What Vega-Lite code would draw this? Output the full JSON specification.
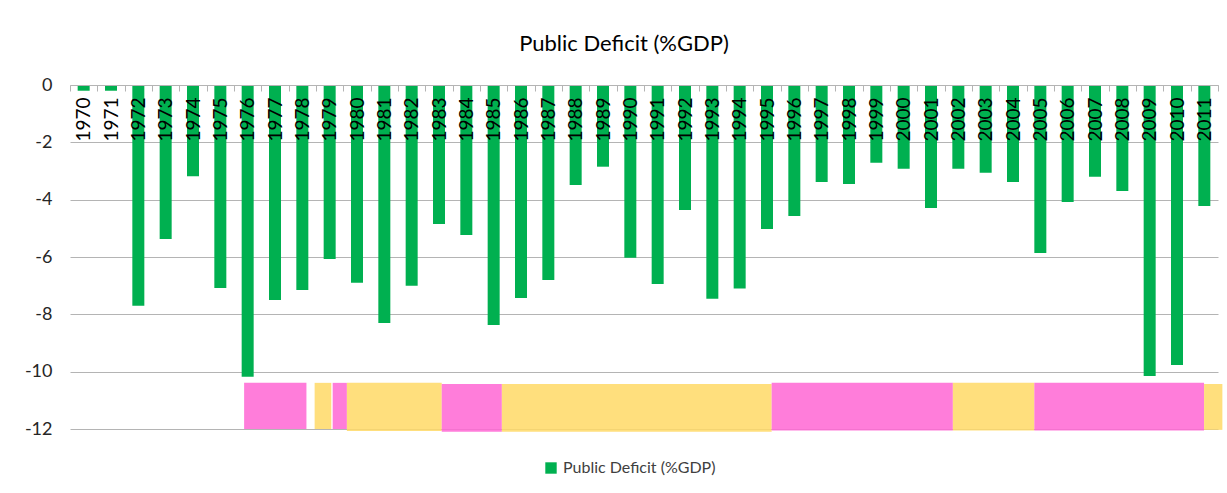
{
  "$schema": "https://vega.github.io/schema/vega-lite/v6.json",
  "width": 1148,
  "height": 344,
  "autosize": {"type": "none"},
  "padding": {"left": 70, "top": 85, "right": 9, "bottom": 64},
  "background": "white",
  "config": {
    "font": "Lato",
    "view": {"stroke": null},
    "axis": {"labelFont": "Lato", "titleFont": "Lato"}
  },
  "title": {
    "text": "Public Deficit (%GDP)",
    "fontSize": 22,
    "fontWeight": "normal",
    "color": "#000000",
    "font": "Lato",
    "offset": 20,
    "dx": -20
  },
  "datasets": {
    "deficit": [
      {"year": 1970, "deficit": -0.2},
      {"year": 1971, "deficit": -0.2},
      {"year": 1972, "deficit": -7.7},
      {"year": 1973, "deficit": -5.37},
      {"year": 1974, "deficit": -3.18},
      {"year": 1975, "deficit": -7.08},
      {"year": 1976, "deficit": -10.18},
      {"year": 1977, "deficit": -7.5},
      {"year": 1978, "deficit": -7.15},
      {"year": 1979, "deficit": -6.07},
      {"year": 1980, "deficit": -6.9},
      {"year": 1981, "deficit": -8.3},
      {"year": 1982, "deficit": -7.0},
      {"year": 1983, "deficit": -4.85},
      {"year": 1984, "deficit": -5.23},
      {"year": 1985, "deficit": -8.37},
      {"year": 1986, "deficit": -7.43},
      {"year": 1987, "deficit": -6.8},
      {"year": 1988, "deficit": -3.49},
      {"year": 1989, "deficit": -2.85},
      {"year": 1990, "deficit": -6.03},
      {"year": 1991, "deficit": -6.94},
      {"year": 1992, "deficit": -4.36},
      {"year": 1993, "deficit": -7.46},
      {"year": 1994, "deficit": -7.1},
      {"year": 1995, "deficit": -5.02},
      {"year": 1996, "deficit": -4.57},
      {"year": 1997, "deficit": -3.38},
      {"year": 1998, "deficit": -3.45},
      {"year": 1999, "deficit": -2.71},
      {"year": 2000, "deficit": -2.92},
      {"year": 2001, "deficit": -4.29},
      {"year": 2002, "deficit": -2.92},
      {"year": 2003, "deficit": -3.06},
      {"year": 2004, "deficit": -3.38},
      {"year": 2005, "deficit": -5.86},
      {"year": 2006, "deficit": -4.08},
      {"year": 2007, "deficit": -3.2},
      {"year": 2008, "deficit": -3.7},
      {"year": 2009, "deficit": -10.15},
      {"year": 2010, "deficit": -9.77},
      {"year": 2011, "deficit": -4.22}
    ],
    "periods": [
      {"start": 1975.87, "end": 1978.15, "top": -10.39, "bottom": -12.0, "party": "PS"},
      {"start": 1978.45, "end": 1979.06, "top": -10.39, "bottom": -12.0, "party": "PSD"},
      {"start": 1979.11, "end": 1979.63, "top": -10.39, "bottom": -12.0, "party": "PS"},
      {"start": 1979.63, "end": 1983.1, "top": -10.39, "bottom": -12.07, "party": "PSD"},
      {"start": 1983.1, "end": 1985.3, "top": -10.43, "bottom": -12.1, "party": "PS"},
      {"start": 1985.3, "end": 1995.17, "top": -10.43, "bottom": -12.1, "party": "PSD"},
      {"start": 1995.17, "end": 2001.8, "top": -10.39, "bottom": -12.05, "party": "PS"},
      {"start": 2001.8, "end": 2004.78, "top": -10.39, "bottom": -12.05, "party": "PSD"},
      {"start": 2004.78, "end": 2010.99, "top": -10.39, "bottom": -12.05, "party": "PS"},
      {"start": 2010.99, "end": 2011.66, "top": -10.43, "bottom": -12.03, "party": "PSD"}
    ]
  },
  "layer": [
    {
      "data": {"name": "periods"},
      "mark": {"type": "rect", "opacity": 0.85, "clip": false},
      "encoding": {
        "x": {
          "field": "start",
          "type": "quantitative",
          "scale": {"domain": [1969.5, 2011.5], "nice": false, "zero": false, "padding": 0},
          "axis": {
            "orient": "bottom",
            "offset": -344,
            "values": [1969.5, 1970.5, 1971.5, 1972.5, 1973.5, 1974.5, 1975.5, 1976.5, 1977.5, 1978.5, 1979.5, 1980.5, 1981.5, 1982.5, 1983.5, 1984.5, 1985.5, 1986.5, 1987.5, 1988.5, 1989.5, 1990.5, 1991.5, 1992.5, 1993.5, 1994.5, 1995.5, 1996.5, 1997.5, 1998.5, 1999.5, 2000.5, 2001.5, 2002.5, 2003.5, 2004.5, 2005.5, 2006.5, 2007.5, 2008.5, 2009.5, 2010.5, 2011.5],
            "labels": false,
            "ticks": true,
            "tickSize": 6,
            "tickColor": "#b4b4b4",
            "domain": false,
            "grid": false,
            "title": null,
            "zindex": 1
          }
        },
        "x2": {"field": "end"},
        "y": {
          "field": "top",
          "type": "quantitative",
          "scale": {"domain": [-12, 0], "nice": false},
          "axis": {
            "values": [0, -2, -4, -6, -8, -10, -12],
            "labelExpr": "'' + datum.value",
            "grid": true,
            "gridColor": "#b4b4b4",
            "gridWidth": 1,
            "ticks": false,
            "domain": false,
            "labelFontSize": 18,
            "labelColor": "#262626",
            "labelPadding": 18,
            "title": null
          }
        },
        "y2": {"field": "bottom"},
        "fill": {
          "field": "party",
          "type": "nominal",
          "scale": {"domain": ["PS", "PSD"], "range": ["#ff66d4", "#ffd966"]},
          "legend": null
        }
      }
    },
    {
      "data": {"name": "deficit"},
      "mark": {"type": "bar", "size": 12},
      "encoding": {
        "x": {
          "field": "year",
          "type": "quantitative",
          "axis": {
            "orient": "bottom",
            "offset": -344,
            "values": [1970, 1971, 1972, 1973, 1974, 1975, 1976, 1977, 1978, 1979, 1980, 1981, 1982, 1983, 1984, 1985, 1986, 1987, 1988, 1989, 1990, 1991, 1992, 1993, 1994, 1995, 1996, 1997, 1998, 1999, 2000, 2001, 2002, 2003, 2004, 2005, 2006, 2007, 2008, 2009, 2010, 2011],
            "format": "d",
            "labelAngle": -90,
            "labelFontSize": 19,
            "labelColor": "#000000",
            "labelPadding": 12,
            "labelOverlap": false,
            "labelFlush": false,
            "ticks": false,
            "domain": true,
            "domainColor": "#b4b4b4",
            "grid": false,
            "title": null,
            "zindex": 1
          }
        },
        "y": {"field": "deficit", "type": "quantitative"},
        "color": {
          "datum": "Public Deficit (%GDP)",
          "type": "nominal",
          "scale": {"range": ["#00b050"]},
          "legend": {
            "orient": "none",
            "legendX": 473,
            "legendY": 375,
            "title": null,
            "symbolType": "square",
            "symbolSize": 130,
            "labelFontSize": 16,
            "labelColor": "#404040",
            "labelFont": "Lato"
          }
        }
      }
    }
  ],
  "resolve": {"axis": {"x": "independent"}}
}
